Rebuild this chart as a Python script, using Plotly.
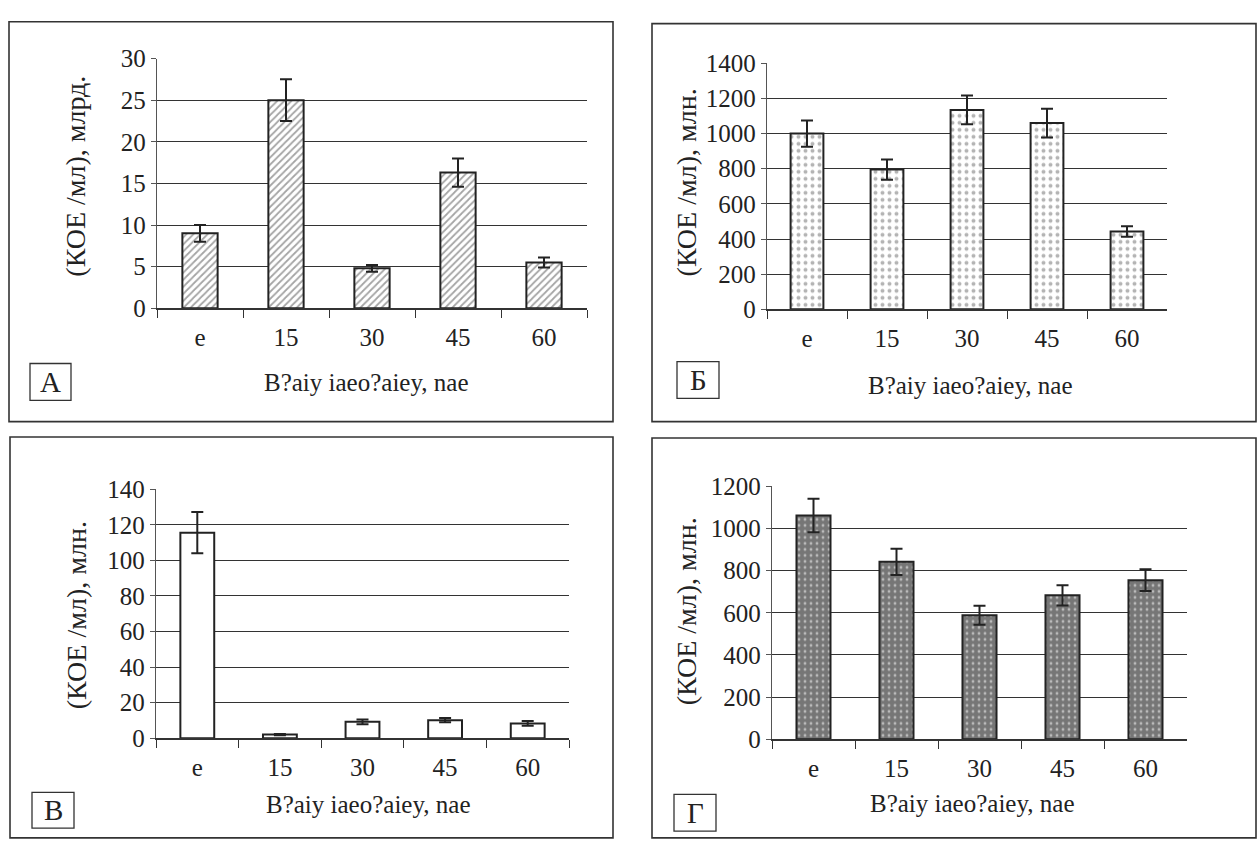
import plotly.graph_objects as go

W, H = 1257, 849

# ---------------- data ----------------
categories = ["e", "15", "30", "45", "60"]

a_vals = [9.0, 25.0, 4.8, 16.3, 5.5]
a_err = [1.0, 2.5, 0.4, 1.7, 0.6]

b_vals = [1000, 795, 1135, 1060, 443]
b_err = [75, 57, 82, 82, 30]

c_vals = [115.6, 2.0, 9.2, 10.1, 8.3]
c_err = [11.6, 0.3, 1.3, 1.2, 1.3]

d_vals = [1062, 842, 588, 683, 755]
d_err = [80, 62, 45, 48, 52]

panel_letters = ["А", "Б", "В", "Г"]
y_titles = ["(КОЕ /мл), млрд.", "(КОЕ /мл), млн.", "(КОЕ /мл), млн.", "(КОЕ /мл), млн."]
x_title = "B?aiy iaeo?aiey, nae"
y_ranges = [(0, 30), (0, 1400), (0, 140), (0, 1200)]
y_dticks = [5, 200, 20, 200]

FONT = "'Liberation Serif', 'DejaVu Serif', 'Times New Roman', Times, serif"
INK = "#222222"


def fx(px):
    return px / W


def fy(py):
    return 1 - py / H


# plot-area pixel boxes (left, right, top, bottom)
plot_boxes = [
    (157, 587, 47, 305),
    (767, 1167, 52, 306),
    (156, 569, 492, 749),
    (772, 1187, 489, 750),
]
frames = [
    (9, 613, 9, 422),
    (652, 1256, 11, 422),
    (10, 613, 438, 852),
    (652, 1256, 439, 852),
]
label_boxes = [
    (30, 71, 362, 400),
    (677, 719, 360, 398),
    (32, 74, 805, 842),
    (674, 716, 807, 845),
]
ytitle_pos = [(76, 169), (686, 175), (76, 622), (686, 618)]
xtitle_pos = [(366, 382), (970, 385), (368, 817), (972, 816)]

patterns = [
    dict(shape="/", fgcolor="#4a4a4a", bgcolor="white", size=5, solidity=0.35),
    dict(shape=".", fgcolor="#6a6a6a", bgcolor="white", size=7, solidity=0.25),
    None,
    dict(shape=".", fgcolor="white", bgcolor="#767676", size=6, solidity=0.18),
]

series = [(a_vals, a_err), (b_vals, b_err), (c_vals, c_err), (d_vals, d_err)]

fig = go.Figure()
layout = dict(
    width=W, height=H,
    margin=dict(l=0, r=0, t=0, b=0),
    paper_bgcolor="white", plot_bgcolor="white",
    showlegend=False,
    font=dict(family=FONT, color=INK),
)
shapes = []
annotations = []

for i in range(4):
    n = "" if i == 0 else str(i + 1)
    vals, err = series[i]
    marker = dict(color="white", line=dict(color=INK, width=2))
    if patterns[i] is not None:
        marker["pattern"] = patterns[i]
    fig.add_trace(go.Bar(
        x=categories, y=vals, width=0.41,
        xaxis="x" + n, yaxis="y" + n,
        marker=marker,
        error_y=dict(type="data", array=err, visible=True,
                     color=INK, thickness=2, width=6),
        hoverinfo="skip",
    ))
    l, r, t, b = plot_boxes[i]
    layout["xaxis" + n] = dict(
        domain=[fx(l), fx(r)], anchor="y" + n, type="category",
        range=[-0.5, 4.5], showgrid=False, zeroline=False,
        showline=True, linecolor="#333333", linewidth=1.5,
        ticks="outside", tickson="boundaries", ticklen=8,
        tickcolor="#333333", tickwidth=1.3,
        tickfont=dict(family=FONT, size=25, color=INK),
        ticklabelstandoff=6, fixedrange=True,
    )
    layout["yaxis" + n] = dict(
        domain=[fy(b), fy(t)], anchor="x" + n,
        range=list(y_ranges[i]), dtick=y_dticks[i], tick0=0,
        showgrid=True, gridcolor="#333333", gridwidth=1.4,
        zeroline=False, showline=True, linecolor="#555555", linewidth=1.3,
        ticks="outside", ticklen=5, tickcolor="#555555", tickwidth=1.3,
        tickfont=dict(family=FONT, size=25, color=INK),
        fixedrange=True,
    )
    # outer frame
    fl, fr, ft, fb = frames[i]
    shapes.append(dict(type="rect", xref="paper", yref="paper",
                       x0=fx(fl), x1=fx(fr), y0=fy(fb), y1=fy(ft),
                       line=dict(color="#333333", width=1.6), layer="below"))
    # panel letter box
    bl, br, bt, bb = label_boxes[i]
    shapes.append(dict(type="rect", xref="paper", yref="paper",
                       x0=fx(bl), x1=fx(br), y0=fy(bb), y1=fy(bt),
                       line=dict(color="#333333", width=1.3)))
    annotations.append(dict(xref="paper", yref="paper",
                            x=fx((bl + br) / 2), y=fy((bt + bb) / 2),
                            text=panel_letters[i], showarrow=False,
                            xanchor="center", yanchor="middle",
                            font=dict(family=FONT, size=29, color=INK)))
    # y title
    yx, yy = ytitle_pos[i]
    annotations.append(dict(xref="paper", yref="paper", x=fx(yx), y=fy(yy),
                            text=y_titles[i], showarrow=False, textangle=-90,
                            xanchor="center", yanchor="middle",
                            font=dict(family=FONT, size=28, color=INK)))
    # x title
    tx, ty = xtitle_pos[i]
    annotations.append(dict(xref="paper", yref="paper", x=fx(tx), y=fy(ty),
                            text=x_title, showarrow=False,
                            xanchor="center", yanchor="middle",
                            font=dict(family=FONT, size=25, color=INK)))

layout["shapes"] = shapes
layout["annotations"] = annotations
fig.update_layout(**layout)
fig.write_html("out.html")
